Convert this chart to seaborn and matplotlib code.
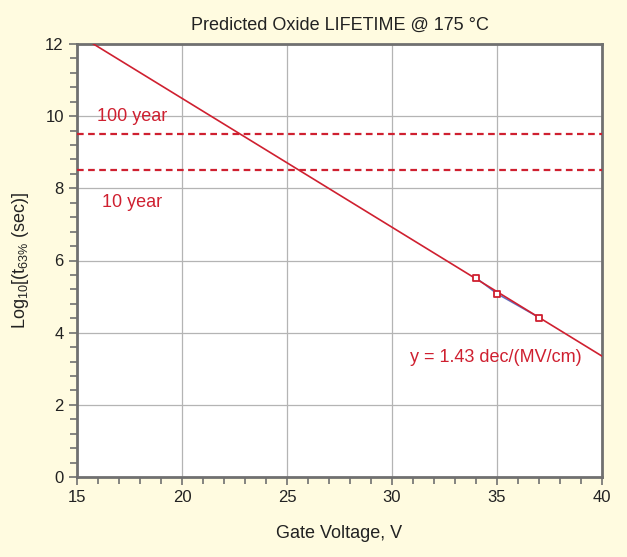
import numpy as np
import matplotlib
matplotlib.use("Agg")
import matplotlib.pyplot as plt
import seaborn as sns
from matplotlib.ticker import MultipleLocator

# data
gate_v = [34, 35, 37]
log_t63 = [5.52, 5.08, 4.42]
fit_v = [15, 40]
fit_log_t = [12.28, 3.35]
year_levels = [9.5, 8.5]
year_labels = ["100 year", "10 year"]

sns.set_style("white")
plt.rcParams['font.family'] = ['Liberation Sans', 'DejaVu Sans']
plt.rcParams['mathtext.fontset'] = 'custom'
plt.rcParams['mathtext.rm'] = 'Liberation Sans'

red = '#cf2030'
cream = '#fffbe0'
spine_c = '#707070'

fig = plt.figure(figsize=(6.27, 5.57), dpi=100, facecolor=cream)
ax = fig.add_axes([77/627, 80/557, 525/627, 433/557])
ax.set_facecolor('white')

# measured points, thin connecting line under the fit
sns.lineplot(x=gate_v, y=log_t63, ax=ax, color='#6070c0', lw=1.1, zorder=3)
sns.lineplot(x=fit_v, y=fit_log_t, ax=ax, color=red, lw=1.2, zorder=4)
sns.scatterplot(x=gate_v, y=log_t63, ax=ax, marker='s', s=22, facecolor='white',
                edgecolor=red, linewidth=1.3, zorder=5)

for lvl in year_levels:
    ax.axhline(lvl, color=red, ls=(0, (3, 2)), lw=1.6, zorder=3)

ax.text(15.95, 10.0, year_labels[0], color=red, fontsize=13, va='center')
ax.text(16.2, 7.62, year_labels[1], color=red, fontsize=13, va='center')
ax.text(30.86, 3.3, "y = 1.43 dec/(MV/cm)", color=red, fontsize=13, va='center')

ax.set_xlim(15, 40)
ax.set_ylim(0, 12)
ax.xaxis.set_major_locator(MultipleLocator(5))
ax.xaxis.set_minor_locator(MultipleLocator(1))
ax.yaxis.set_major_locator(MultipleLocator(2))
ax.yaxis.set_minor_locator(MultipleLocator(0.4))
ax.grid(True, which='major', color='#b4b4b4', lw=0.9)
ax.tick_params(which='both', direction='out', color=spine_c, width=1.2,
               bottom=True, left=True, labelsize=12, labelcolor='#222222')
ax.tick_params(which='major', length=6)
ax.tick_params(which='minor', length=5)
for s in ax.spines.values():
    s.set_color(spine_c)
    s.set_linewidth(2)

ax.set_title("Predicted Oxide LIFETIME @ 175 °C", fontsize=13, color='#222222', pad=10)
ax.set_xlabel("Gate Voltage, V", fontsize=13, color='#222222', labelpad=14)
ax.set_ylabel(r"Log$_{10}$[(t$_{63\%}$ (sec)]", fontsize=13, color='#222222', labelpad=10)

fig.savefig("out.png", dpi=100, facecolor=cream)
